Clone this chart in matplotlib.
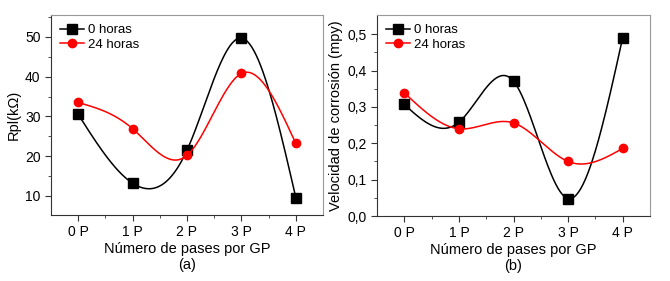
import matplotlib.pyplot as plt
import numpy as np

plt.rcParams['font.family'] = ['Liberation Sans', 'DejaVu Sans']

labels = ['0 P', '1 P', '2 P', '3 P', '4 P']
rpl_0h = [30.5, 13.2, 21.5, 49.7, 9.6]
rpl_24h = [33.5, 26.9, 20.2, 40.8, 23.2]
vel_0h = [0.307, 0.258, 0.371, 0.048, 0.491]
vel_24h = [0.339, 0.240, 0.256, 0.150, 0.186]


def natural_spline(y, n=200):
    # natural cubic spline through equally spaced points x = 0..len(y)-1
    y = np.asarray(y, float)
    k = len(y)
    A = np.zeros((k, k))
    b = np.zeros(k)
    A[0, 0] = A[-1, -1] = 1
    for i in range(1, k - 1):
        A[i, i - 1:i + 2] = [1, 4, 1]
        b[i] = 6 * (y[i + 1] - 2 * y[i] + y[i - 1])
    m = np.linalg.solve(A, b)
    xs = np.linspace(0, k - 1, n)
    idx = np.minimum(xs.astype(int), k - 2)
    t = xs - idx
    ys = ((1 - t) * y[idx] + t * y[idx + 1]
          + ((1 - t) ** 3 - (1 - t)) * m[idx] / 6
          + (t ** 3 - t) * m[idx + 1] / 6)
    return xs, ys


def panel(ax, s0, s24, ylabel, ylim, yticks, yminor, ticklabels, tag):
    x = np.arange(len(labels))
    for s, c, mk, ms, name in [(s0, 'black', 's', 6.5, '0 horas'),
                               (s24, '#ff0000', 'o', 6, '24 horas')]:
        xs, ys = natural_spline(s)
        ax.plot(xs, ys, color=c, lw=1.1)
        ax.plot(x, s, linestyle='none', marker=mk, color=c, ms=ms)
        ax.plot([], [], color=c, marker=mk, ms=ms, lw=1.1, label=name)
    ax.set_xlim(-0.5, 4.5)
    ax.set_ylim(*ylim)
    ax.set_xticks(x)
    ax.set_xticklabels(labels)
    ax.set_xticks(x[:-1] + 0.5, minor=True)
    ax.set_yticks(yticks)
    ax.set_yticklabels(ticklabels)
    ax.set_yticks(yminor, minor=True)
    ax.tick_params(which='both', direction='out', labelsize=10, colors='#333333', labelcolor='black')
    ax.tick_params(which='major', length=4)
    ax.tick_params(which='minor', length=2.5)
    for side in ['left', 'bottom']:
        ax.spines[side].set_color('#333333')
    for side in ['top', 'right']:
        ax.spines[side].set_color('#999999')
    ax.set_ylabel(ylabel, fontsize=10.5, labelpad=3)
    ax.set_xlabel('Número de pases por GP\n(' + tag + ')', fontsize=10.5, linespacing=1.15, labelpad=2)
    ax.legend(loc='upper left', frameon=False, fontsize=9.5, handlelength=1.8,
              handletextpad=0.3, borderaxespad=0.3, labelspacing=0.15)


fig = plt.figure(figsize=(6.7, 2.81), dpi=100)
ax1 = fig.add_axes([51 / 670, 1 - 215 / 281, 272 / 670, 200 / 281])
ax2 = fig.add_axes([377 / 670, 1 - 216 / 281, 273 / 670, 201 / 281])

panel(ax1, rpl_0h, rpl_24h, 'Rpl(kΩ)', (5.2, 55.5), [10, 20, 30, 40, 50],
      [15, 25, 35, 45, 55], ['10', '20', '30', '40', '50'], 'a')
panel(ax2, vel_0h, vel_24h, 'Velocidad de corrosión (mpy)', (0, 0.553),
      [0, 0.1, 0.2, 0.3, 0.4, 0.5], [0.05, 0.15, 0.25, 0.35, 0.45],
      ['0,0', '0,1', '0,2', '0,3', '0,4', '0,5'], 'b')

fig.savefig('out.png', dpi=100)
